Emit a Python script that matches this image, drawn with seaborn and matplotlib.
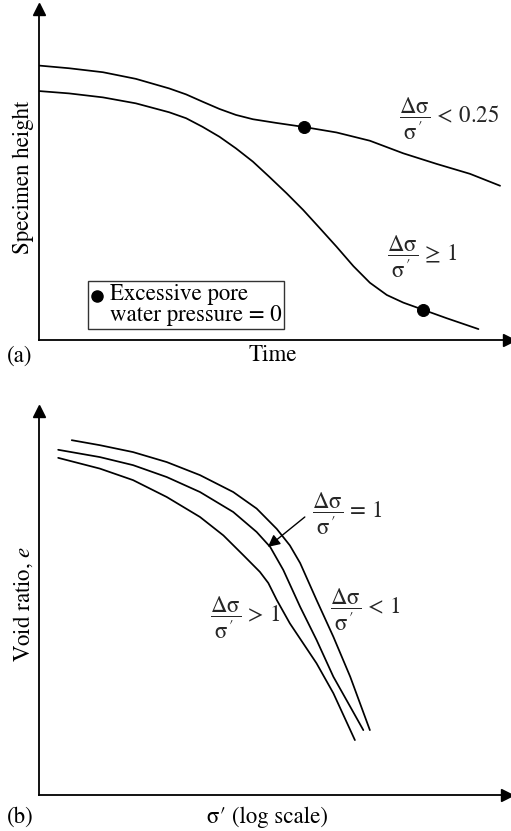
import numpy as np
import pandas as pd
import seaborn as sns
import matplotlib
matplotlib.use("Agg")
import matplotlib.pyplot as plt
from matplotlib.lines import Line2D
from matplotlib.legend_handler import HandlerLine2D

# ---- data (arbitrary units) ----
# Panel (a): specimen height vs time
time_low_stress = [0.01, 0.64, 1.36, 2.06, 2.77, 3.13, 3.48, 3.84, 4.19, 4.55, 5.04, 5.62,
                   6.33, 7.04, 7.75, 8.46, 9.17, 9.81]
height_low_stress = [8.29, 8.21, 8.09, 7.89, 7.60, 7.42, 7.20, 6.98, 6.80, 6.67, 6.56, 6.44,
                     6.27, 6.02, 5.64, 5.32, 5.02, 4.66]
time_high_stress = [0.01, 0.64, 1.36, 2.06, 2.77, 3.13, 3.48, 3.84, 4.19, 4.55, 4.90, 5.27,
                    5.62, 5.98, 6.33, 6.69, 7.04, 7.40, 7.75, 8.18, 8.67, 9.35]
height_high_stress = [7.52, 7.45, 7.33, 7.15, 6.88, 6.70, 6.44, 6.14, 5.79, 5.39, 4.93, 4.43,
                      3.93, 3.37, 2.82, 2.23, 1.73, 1.36, 1.13, 0.91, 0.66, 0.33]
zero_pwp_time = [5.64, 8.18]
zero_pwp_height = [6.44, 0.91]

# Panel (b): void ratio vs log effective stress
sig_lt1 = [0.70, 1.30, 2.01, 2.73, 3.44, 4.15, 4.65, 5.08, 5.36, 5.58, 5.93, 6.29, 6.65, 7.07]
e_lt1 = [9.24, 9.11, 8.93, 8.67, 8.33, 7.89, 7.46, 6.93, 6.50, 6.04, 5.08, 4.12, 3.08, 1.69]
sig_eq1 = [0.41, 1.30, 2.01, 2.73, 3.44, 4.15, 4.65, 4.94, 5.22, 5.58, 5.93, 6.29, 6.65, 6.93]
e_eq1 = [8.99, 8.80, 8.59, 8.28, 7.89, 7.37, 6.85, 6.46, 5.86, 4.90, 4.04, 3.08, 2.30, 1.69]
sig_gt1 = [0.41, 1.30, 2.01, 2.73, 3.44, 3.94, 4.37, 4.72, 4.90, 5.08, 5.36, 5.93, 6.29, 6.75]
e_gt1 = [8.78, 8.50, 8.20, 7.76, 7.24, 6.76, 6.24, 5.81, 5.52, 5.08, 4.47, 3.43, 2.65, 1.43]

FRAC = r"\dfrac{\mathrm{\Delta\sigma}}{\mathrm{\sigma}^{\,\prime}}"
label_a_low = "$" + FRAC + r"\,<\,0.25$"
label_a_high = "$" + FRAC + r"\,\geq\,1$"
label_b_eq = "$" + FRAC + r"\,=\,1$"
label_b_gt = "$" + FRAC + r"\,>\,1$"
label_b_lt = "$" + FRAC + r"\,<\,1$"
legend_text = "Excessive pore\nwater pressure = 0"

sns.set_theme(style="white")
plt.rcParams["font.family"] = ["STIXGeneral", "DejaVu Serif"]
plt.rcParams["mathtext.fontset"] = "stix"

FS = 16.5
W, H = 511, 831
fig = plt.figure(figsize=(W / 100, H / 100), dpi=100)

def px_axes(x0, x1, ytop, ybot):
    return fig.add_axes([x0 / W, (H - ybot) / H, (x1 - x0) / W, (ybot - ytop) / H])

def ftext(xp, yp, s, **kw):
    fig.text(xp / W, 1 - yp / H, s, fontsize=FS, color="black", **kw)

axa = px_axes(39, 509, 9, 340)
axb = px_axes(39, 507, 411, 795)

LW = 1.25
for ax in (axa, axb):
    ax.set_xlim(0, 10)
    ax.set_ylim(0, 10)
    ax.set_xticks([])
    ax.set_yticks([])
    for s in ("top", "right"):
        ax.spines[s].set_visible(False)
    for s in ("left", "bottom"):
        ax.spines[s].set_color("black")
        ax.spines[s].set_linewidth(1.3)
    ax.plot(1, 0, ">", color="black", markersize=8, transform=ax.transAxes, clip_on=False)
    ax.plot(0, 1, "^", color="black", markersize=8, transform=ax.transAxes, clip_on=False)

# ---- panel (a) ----
da = pd.DataFrame({"t": time_low_stress, "h": height_low_stress})
db = pd.DataFrame({"t": time_high_stress, "h": height_high_stress})
sns.lineplot(data=da, x="t", y="h", ax=axa, color="black", lw=LW, sort=False, estimator=None)
sns.lineplot(data=db, x="t", y="h", ax=axa, color="black", lw=LW, sort=False, estimator=None)
sns.scatterplot(x=zero_pwp_time, y=zero_pwp_height, ax=axa, color="black", s=75,
                edgecolor="black", zorder=5)
axa.set_xlim(0, 10)
axa.set_ylim(0, 10)
axa.set_xlabel("")
axa.set_ylabel("")
axa.text(7.66, 6.69, label_a_low, fontsize=FS, ha="left", va="center")
axa.text(7.41, 2.50, label_a_high, fontsize=FS, ha="left", va="center")


class TopHandler(HandlerLine2D):
    def create_artists(self, legend, orig_handle, xdescent, ydescent, width, height,
                       fontsize, trans):
        arts = super().create_artists(legend, orig_handle, xdescent, ydescent, width,
                                      height, fontsize, trans)
        for a in arts:
            a.set_ydata(np.asarray(a.get_ydata(), dtype=float) + 0.38 * fontsize)
        return arts


handle = Line2D([], [], marker="o", color="black", linestyle="none", markersize=8)
leg = axa.legend([handle], [legend_text], loc="lower left", bbox_to_anchor=(0.104, 0.033),
                 borderaxespad=0, frameon=True, fancybox=False, fontsize=FS,
                 handlelength=0.55, handletextpad=0.3, borderpad=0.12,
                 handler_map={Line2D: TopHandler()})
leg.get_frame().set_edgecolor("black")
leg.get_frame().set_linewidth(1.0)
for t in leg.get_texts():
    t.set_linespacing(1.0)
    t.set_color("black")

ftext(20, 356, "(a)", ha="center", va="center")
ftext(273, 355, "Time", ha="center", va="center")
ftext(23, 177, "Specimen height", ha="center", va="center", rotation=90)

# ---- panel (b) ----
for xs, ys in ((sig_lt1, e_lt1), (sig_eq1, e_eq1), (sig_gt1, e_gt1)):
    sns.lineplot(x=xs, y=ys, ax=axb, color="black", lw=LW, sort=False, estimator=None)
axb.set_xlim(0, 10)
axb.set_ylim(0, 10)
axb.set_xlabel("")
axb.set_ylabel("")
axb.text(5.83, 7.32, label_b_eq, fontsize=FS, ha="left", va="center")
axb.text(3.65, 4.62, label_b_gt, fontsize=FS, ha="left", va="center")
axb.text(6.22, 4.81, label_b_lt, fontsize=FS, ha="left", va="center")
axb.annotate("", xy=(4.89, 6.46), xytext=(5.68, 7.24),
             arrowprops=dict(arrowstyle="-|>", color="black", lw=1.0,
                             mutation_scale=18, shrinkA=0, shrinkB=0))
ftext(20, 817, "(b)", ha="center", va="center")
ftext(267, 817, "σ′ (log scale)", ha="center", va="center")
ftext(23, 604, "Void ratio, $e$", ha="center", va="center", rotation=90)

fig.savefig("out.png", dpi=100, facecolor="white")
